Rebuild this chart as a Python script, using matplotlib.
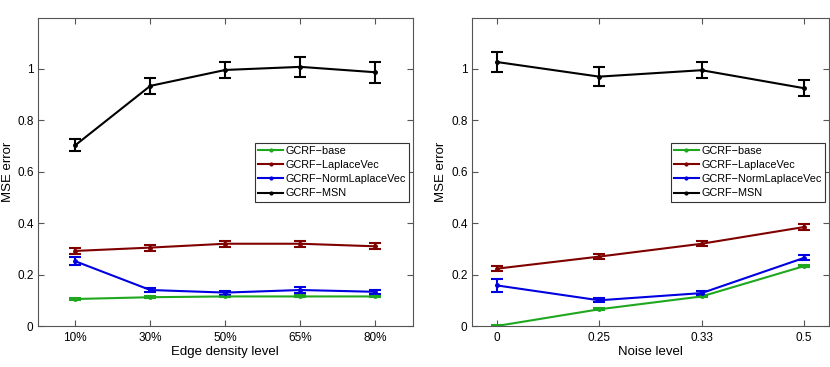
import numpy as np
import matplotlib
matplotlib.use("Agg")
import matplotlib.pyplot as plt
from matplotlib.lines import Line2D

plt.rcParams['font.family'] = ['Liberation Sans', 'DejaVu Sans']
plt.rcParams['font.size'] = 8.5

# left panel: edge density
density_labels = ['10%', '30%', '50%', '65%', '80%']
base_d = [0.105, 0.112, 0.115, 0.115, 0.115]
base_d_err = [0.004, 0.004, 0.004, 0.004, 0.004]
lap_d = [0.292, 0.305, 0.320, 0.320, 0.310]
lap_d_err = [0.012, 0.012, 0.011, 0.012, 0.012]
norm_d = [0.252, 0.140, 0.130, 0.140, 0.133]
norm_d_err = [0.015, 0.008, 0.008, 0.010, 0.008]
msn_d = [0.703, 0.934, 0.996, 1.008, 0.987]
msn_d_err = [0.023, 0.031, 0.031, 0.039, 0.040]

# right panel: noise level
noise_labels = ['0', '0.25', '0.33', '0.5']
base_n = [0.000, 0.065, 0.115, 0.233]
base_n_err = [0.003, 0.004, 0.004, 0.005]
lap_n = [0.223, 0.270, 0.320, 0.385]
lap_n_err = [0.010, 0.010, 0.010, 0.012]
norm_n = [0.158, 0.100, 0.128, 0.265]
norm_n_err = [0.025, 0.007, 0.007, 0.010]
msn_n = [1.027, 0.970, 0.995, 0.925]
msn_n_err = [0.038, 0.037, 0.030, 0.030]

names = ['GCRF\u2212base', 'GCRF\u2212LaplaceVec', 'GCRF\u2212NormLaplaceVec', 'GCRF\u2212MSN']
colors = ['#1fa81f', '#800000', '#0000e0', '#000000']


def panel(ax, labels, series, errs, xlabel, ylab_x):
    x = np.arange(1, len(labels) + 1)
    for y, e, c in zip(series, errs, colors):
        ax.errorbar(x, y, yerr=e, color=c, lw=1.5, marker='.', ms=5,
                    capsize=4, capthick=1.5, elinewidth=1.5)
    ax.set_xticks(x)
    ax.set_xticklabels(labels)
    ax.set_ylim(0, 1.2)
    ax.set_yticks([0, 0.2, 0.4, 0.6, 0.8, 1])
    ax.set_yticklabels(['0', '0.2', '0.4', '0.6', '0.8', '1'])
    ax.set_xlabel(xlabel, fontsize=9.5, labelpad=2)
    ax.set_ylabel('MSE error', fontsize=9.5)
    ax.yaxis.set_label_coords(ylab_x, 0.5)
    ax.tick_params(direction='in', top=True, right=True, length=4,
                   color='#555555')
    ax.tick_params(axis='y', pad=3)
    ax.tick_params(axis='x', pad=4)
    for s in ax.spines.values():
        s.set_color('#555555')
    handles = [Line2D([], [], color=c, lw=1.5, marker='.', ms=4) for c in colors]
    leg = ax.legend(handles, names, loc='upper right',
                    bbox_to_anchor=(0.989, 0.594),
                    fancybox=False, framealpha=1, edgecolor='#333333',
                    handlelength=2.3, handletextpad=0.2, borderpad=0.3,
                    labelspacing=0.38, fontsize=7.8, borderaxespad=0)
    leg.get_frame().set_linewidth(0.8)


fig = plt.figure(figsize=(8.3, 3.67), dpi=100)
ax1 = fig.add_axes([0.0454, 0.1117, 0.4522, 0.8406])
ax2 = fig.add_axes([0.5683, 0.1117, 0.4301, 0.8406])

panel(ax1, density_labels, [base_d, lap_d, norm_d, msn_d],
      [base_d_err, lap_d_err, norm_d_err, msn_d_err], 'Edge density level', -0.063)
ax1.set_xlim(0.5, 5.5)

panel(ax2, noise_labels, [base_n, lap_n, norm_n, msn_n],
      [base_n_err, lap_n_err, norm_n_err, msn_n_err], 'Noise level', -0.068)
ax2.set_xlim(0.756, 4.24)

fig.savefig('out.png', dpi=100)
